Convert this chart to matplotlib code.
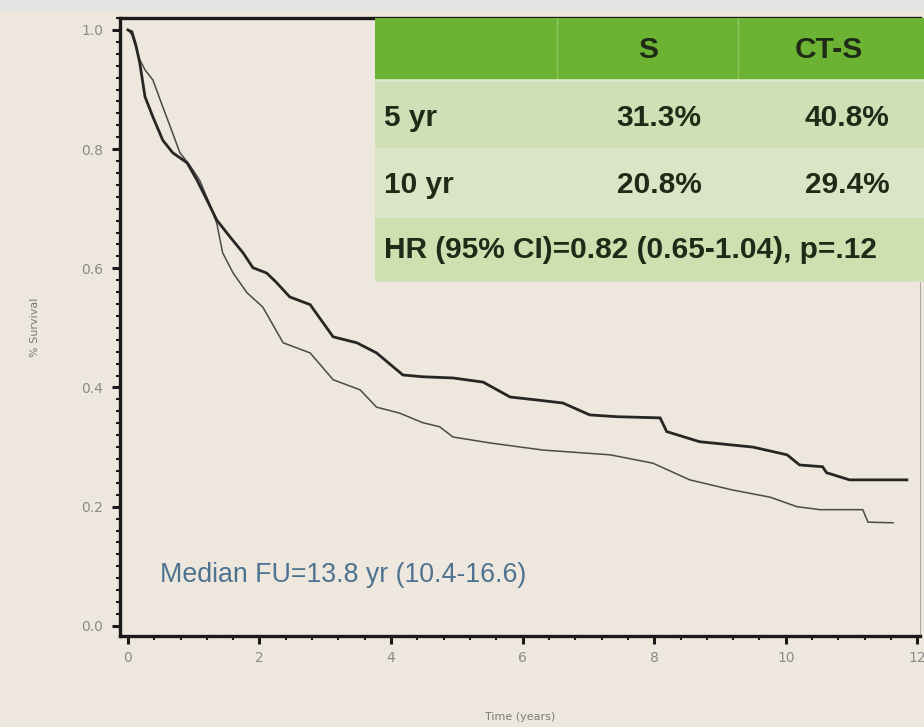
import matplotlib
matplotlib.use("Agg")
import matplotlib.pyplot as plt
from matplotlib.patches import Rectangle
from matplotlib.ticker import MultipleLocator

# Kaplan-Meier traces (time in years, survival fraction)
cts_time = [0.0, 0.06, 0.12, 0.18, 0.26, 0.38, 0.53, 0.68, 0.90, 1.05, 1.20, 1.35,
            1.55, 1.75, 1.90, 2.11, 2.26, 2.46, 2.77, 3.12, 3.48, 3.78, 4.18, 4.48,
            4.94, 5.40, 5.81, 6.22, 6.61, 7.02, 7.43, 8.09, 8.19, 8.69, 9.50, 10.02,
            10.21, 10.56, 10.62, 10.97, 11.84]
cts_surv = [1.0, 0.997, 0.975, 0.945, 0.888, 0.854, 0.815, 0.794, 0.777, 0.748, 0.715,
            0.681, 0.653, 0.626, 0.601, 0.592, 0.576, 0.552, 0.539, 0.485, 0.475, 0.458,
            0.421, 0.418, 0.416, 0.409, 0.384, 0.379, 0.374, 0.354, 0.351, 0.349, 0.326,
            0.309, 0.300, 0.287, 0.270, 0.267, 0.257, 0.245, 0.245]

s_time = [0.0, 0.06, 0.18, 0.26, 0.38, 0.53, 0.68, 0.79, 0.94, 1.09, 1.25, 1.35, 1.44,
          1.60, 1.81, 2.05, 2.36, 2.77, 3.12, 3.53, 3.78, 4.13, 4.48, 4.74, 4.94, 5.50,
          6.31, 7.33, 7.98, 8.54, 9.19, 9.76, 10.17, 10.52, 11.17, 11.25, 11.63]
s_surv = [1.0, 0.992, 0.950, 0.933, 0.916, 0.871, 0.827, 0.794, 0.773, 0.748, 0.706,
          0.676, 0.626, 0.592, 0.559, 0.535, 0.475, 0.458, 0.413, 0.396, 0.367, 0.357,
          0.341, 0.334, 0.317, 0.307, 0.295, 0.287, 0.273, 0.245, 0.228, 0.216, 0.200,
          0.195, 0.195, 0.174, 0.173]

x_ticks = [0, 2, 4, 6, 8, 10, 12]
y_ticks = [0.0, 0.2, 0.4, 0.6, 0.8, 1.0]

table_header = ["", "S", "CT-S"]
table_rows = [["5 yr", "31.3%", "40.8%"], ["10 yr", "20.8%", "29.4%"]]
hr_text = "HR (95% CI)=0.82 (0.65-1.04), p=.12"
fu_text = "Median FU=13.8 yr (10.4-16.6)"

BG = "#ede7dd"
FONT = ["Liberation Sans", "DejaVu Sans"]
INK = "#1f2a17"

W, H = 924, 727
fig = plt.figure(figsize=(W / 100, H / 100), dpi=100, facecolor=BG)
fig.patches.append(Rectangle((0, 1 - 9 / H), 1, 9 / H, transform=fig.transFigure,
                             color="#e1e3e4", zorder=0))

ax = fig.add_axes([120 / W, 1 - 636 / H, 800 / W, 618 / H])
ax.set_facecolor(BG)
ax.plot(s_time, s_surv, color="#4a4a48", lw=1.1, solid_joinstyle="miter")
ax.plot(cts_time, cts_surv, color="#262624", lw=2.0, solid_joinstyle="miter")

ax.set_xlim(-0.12, 12.04)
ax.set_ylim(-0.017, 1.02)
ax.set_xticks(x_ticks)
ax.set_yticks(y_ticks)
ax.set_xticklabels([str(v) for v in x_ticks])
ax.set_yticklabels([f"{v:.1f}" for v in y_ticks])
ax.xaxis.set_minor_locator(MultipleLocator(0.4))
ax.yaxis.set_minor_locator(MultipleLocator(0.02))
ax.tick_params(which="major", direction="out", length=6, width=2.2, color="#1a1a1a",
               labelsize=10, labelcolor="#8a8a88")
ax.tick_params(axis="x", which="major", pad=5)
ax.tick_params(axis="y", which="major", pad=6)
ax.tick_params(which="minor", direction="out", length=3, width=1.5, color="#1a1a1a")
for side in ("left", "bottom", "top"):
    ax.spines[side].set_linewidth(2.4)
    ax.spines[side].set_color("#1a1a1a")
ax.spines["right"].set_linewidth(0.8)
ax.spines["right"].set_color("#a9a7a2")

ax.set_xlabel("Time (years)", fontsize=8, color="#7a7a78", labelpad=34)
ax.set_ylabel("% Survival", fontsize=8, color="#7a7a78", labelpad=30)

ax.text(0.49, 0.085, fu_text, fontsize=19.3, color="#4e7391", family=FONT,
        va="center", ha="left")

# table drawn in pixel units on its own axes
tab = fig.add_axes([375 / W, 1 - 282 / H, (W - 375) / W, 264 / H])
tab.set_xlim(375, W)
tab.set_ylim(282, 18)
tab.axis("off")
tab.add_patch(Rectangle((375, 18), W - 375, 264, color="#dfe6cf", zorder=0))
tab.add_patch(Rectangle((375, 18), W - 375, 60, color="#6cb334"))
tab.add_patch(Rectangle((375, 82), W - 375, 65, color="#cfdfb6"))
tab.add_patch(Rectangle((375, 150), W - 375, 65, color="#dbe5c6"))
tab.add_patch(Rectangle((375, 218), W - 375, 62, color="#cde0b0"))
for xs in (557, 738):
    tab.plot([xs, xs], [18, 78], color="#8fc762", lw=1)

col_x = [384, 648, 829]
fs = 21.5
tab.text(col_x[1], 50, table_header[1], fontsize=fs, weight="bold", color=INK,
         family=FONT, ha="center", va="center")
tab.text(col_x[2], 50, table_header[2], fontsize=fs, weight="bold", color=INK,
         family=FONT, ha="center", va="center")
for row, yc in zip(table_rows, (118, 185)):
    tab.text(col_x[0], yc, row[0], fontsize=fs, weight="bold", color=INK,
             family=FONT, ha="left", va="center")
    tab.text(col_x[1] + 11, yc, row[1], fontsize=fs, weight="bold", color=INK,
             family=FONT, ha="center", va="center")
    tab.text(col_x[2] + 18, yc, row[2], fontsize=fs, weight="bold", color=INK,
             family=FONT, ha="center", va="center")
tab.text(col_x[0], 250, hr_text, fontsize=fs, weight="bold", color=INK,
         family=FONT, ha="left", va="center")

fig.savefig("out.png", dpi=100, facecolor=BG)
